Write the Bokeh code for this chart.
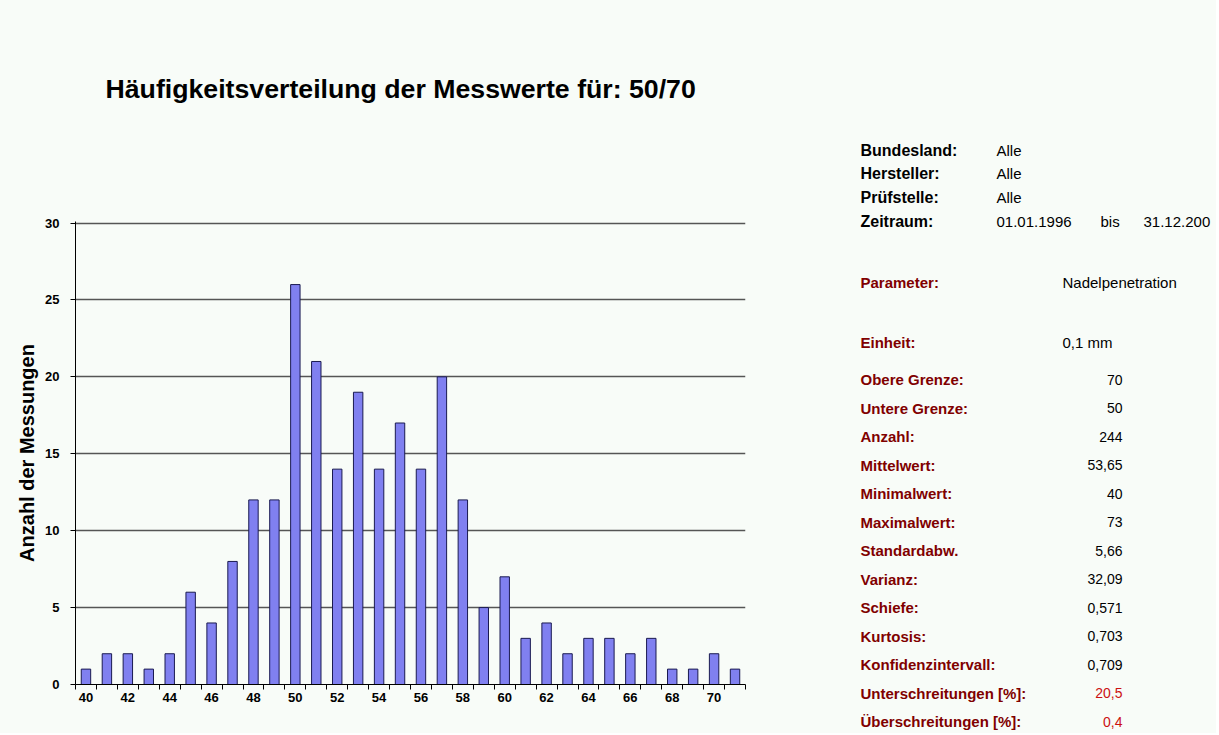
from bokeh.plotting import figure
from bokeh.models import Range1d, FixedTicker
from bokeh.layouts import column, row
from bokeh.core.properties import value
from bokeh.embed import file_html
from bokeh.resources import INLINE

# ---- data ----
messwerte = list(range(40, 72))
anzahl = [1, 2, 2, 1, 2, 6, 4, 8, 12, 12, 26, 21, 14, 19, 14, 17,
          14, 20, 12, 5, 7, 3, 4, 2, 3, 3, 2, 3, 1, 1, 2, 1]
x_tick_labels = list(range(40, 71, 2))
y_ticks = [0, 5, 10, 15, 20, 25, 30]

title_text = "Häufigkeitsverteilung der Messwerte für: 50/70"
y_title = "Anzahl der Messungen"

info_labels = ["Bundesland:", "Hersteller:", "Prüfstelle:", "Zeitraum:"]
info_values = ["Alle", "Alle", "Alle", "01.01.1996"]
zeitraum_bis = ["bis", "31.12.200"]

parameter = ["Parameter:", "Nadelpenetration"]
einheit = ["Einheit:", "0,1 mm"]

stat_labels = ["Obere Grenze:", "Untere Grenze:", "Anzahl:", "Mittelwert:",
               "Minimalwert:", "Maximalwert:", "Standardabw.", "Varianz:",
               "Schiefe:", "Kurtosis:", "Konfidenzintervall:",
               "Unterschreitungen [%]:", "Überschreitungen [%]:"]
stat_values = ["70", "50", "244", "53,65", "40", "73", "5,66", "32,09",
               "0,571", "0,703", "0,709", "20,5", "0,4"]

# ---- layout constants ----
W, H = 1216, 733
TOP_H = 125
CHART_W = 760
BG = "#F8FCF8"
FONT = "Liberation Sans"
DARKRED = "#800000"
RED = "#CC1111"


def text_fig(w, h, x0, y0):
    f = figure(width=w, height=h, output_backend="svg", toolbar_location=None,
               x_range=Range1d(x0, x0 + w), y_range=Range1d(y0 + h, y0),
               min_border=0, min_border_left=0, min_border_right=0,
               min_border_top=0, min_border_bottom=0)
    f.axis.visible = False
    f.grid.grid_line_color = None
    f.outline_line_color = None
    f.background_fill_color = BG
    f.border_fill_color = BG
    f.frame_align = False
    return f


def put(f, texts, xs, ys, size, bold=False, color="black", align="left"):
    f.text(x=xs, y=ys, text=texts, text_font=value(FONT),
           text_font_size=value(size),
           text_font_style="bold" if bold else "normal",
           text_color=color, text_align=align, text_baseline="middle")


# ---- title strip ----
top = text_fig(W, TOP_H, 0, 0)
put(top, [title_text], [105], [88], "26.7px", bold=True)

# ---- chart ----
CH = H - TOP_H
p = figure(width=CHART_W, height=CH, output_backend="svg", toolbar_location=None,
           x_range=Range1d(39.5, 71.5), y_range=Range1d(0, 30.1),
           min_border_left=75, min_border_right=CHART_W - 745,
           min_border_top=221 - TOP_H, min_border_bottom=CH - (684 - TOP_H))
p.background_fill_color = BG
p.border_fill_color = BG
p.outline_line_color = None
p.frame_align = False

p.vbar(x=messwerte, top=anzahl, width=0.45, fill_color="#8080F0",
       line_color="#1A1A50", line_width=1)

p.xaxis.ticker = FixedTicker(ticks=x_tick_labels,
                             minor_ticks=[v - 0.5 for v in messwerte] + [messwerte[-1] + 0.5])
p.xaxis.major_tick_out = 0
p.xaxis.major_tick_in = 0
p.xaxis.minor_tick_out = 5
p.xaxis.minor_tick_in = 0
p.xaxis.minor_tick_line_color = "black"
p.xaxis.axis_line_color = "black"
p.xaxis.major_label_text_font = FONT
p.xaxis.major_label_text_font_style = "bold"
p.xaxis.major_label_text_font_size = "13px"
p.xaxis.major_label_text_color = "black"
p.xaxis.major_label_standoff = 3
p.xgrid.grid_line_color = None

p.yaxis.ticker = FixedTicker(ticks=y_ticks)
p.yaxis.minor_tick_line_color = None
p.yaxis.major_tick_out = 5
p.yaxis.major_tick_in = 0
p.yaxis.axis_line_color = "black"
p.yaxis.major_tick_line_color = "black"
p.yaxis.major_label_text_font = FONT
p.yaxis.major_label_text_font_style = "bold"
p.yaxis.major_label_text_font_size = "13px"
p.yaxis.major_label_text_color = "black"
p.yaxis.major_label_standoff = 11
p.yaxis.axis_label = y_title
p.yaxis.axis_label_text_font = FONT
p.yaxis.axis_label_text_font_style = "bold"
p.yaxis.axis_label_text_font_size = "20px"
p.yaxis.axis_label_text_color = "black"
p.yaxis.axis_label_standoff = 4
p.ygrid.grid_line_color = "#555555"
p.ygrid.grid_line_width = 1.3

# ---- info panel ----
info = text_fig(W - CHART_W, CH, CHART_W, TOP_H)
rows_top = [150, 173, 197, 221]
put(info, info_labels, [860] * 4, rows_top, "16px", bold=True)
put(info, info_values, [996] * 4, rows_top, "15px")
put(info, zeitraum_bis, [1100, 1143], [221, 221], "15px")

put(info, [parameter[0], einheit[0]], [860, 860], [282, 342], "15px",
    bold=True, color=DARKRED)
put(info, [parameter[1], einheit[1]], [1062, 1062], [282, 342], "15px")

stat_y = [379 + i * 28.5 for i in range(len(stat_labels))]
put(info, stat_labels, [860] * len(stat_labels), stat_y, "15px",
    bold=True, color=DARKRED)
n_black = 11
put(info, stat_values[:n_black], [1122] * n_black, stat_y[:n_black], "14px",
    align="right")
put(info, stat_values[n_black:], [1122] * (len(stat_values) - n_black),
    stat_y[n_black:], "14px", color=RED, align="right")

bottom_row = row(p, info, spacing=0, styles={"background-color": BG})
layout = column(top, bottom_row, spacing=0, styles={"background-color": BG})
open("out.html", "w").write(file_html(layout, INLINE))
